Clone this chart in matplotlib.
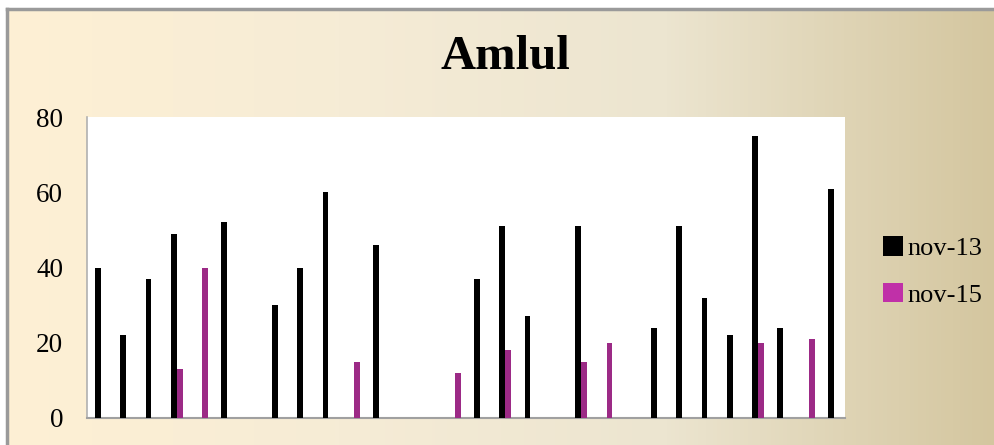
import numpy as np
import matplotlib
matplotlib.use("Agg")
import matplotlib.pyplot as plt
from matplotlib.patches import Patch
from matplotlib.colors import LinearSegmentedColormap

# 30 sampling points, no labels on the x axis
points = np.arange(30)
nov13 = [40, 22, 37, 49, 0, 52, 0, 30, 40, 60,
         0, 46, 0, 0, 0, 37, 51, 27, 0, 51,
         0, 0, 24, 51, 32, 22, 75, 24, 0, 61]
nov15 = [0, 0, 0, 13, 40, 0, 0, 0, 0, 0,
         15, 0, 0, 0, 12, 0, 18, 0, 0, 15,
         20, 0, 0, 0, 0, 0, 20, 0, 21, 0]
series_names = ["nov-13", "nov-15"]
yticks = [0, 20, 40, 60, 80]

plt.rcParams['font.family'] = ['Liberation Serif', 'DejaVu Serif']

fig = plt.figure(figsize=(9.95, 4.45), dpi=100)
fig.patch.set_facecolor("white")

# beige gradient panel with a grey frame on top and left
x0, y1 = 7 / 995, 1 - 9 / 445
bg = fig.add_axes([x0, 0, 1 - x0, y1], zorder=-10)
cmap = LinearSegmentedColormap.from_list(
    "beige", ["#fef0d4", "#f6ecd6", "#ece5d0", "#d4c69f"])
bg.imshow(np.linspace(0, 1, 256).reshape(1, -1), aspect="auto", cmap=cmap,
          extent=[0, 1, 0, 1])
bg.set_xlim(0, 1)
bg.set_ylim(0, 1)
bg.axis("off")
fig.add_artist(plt.Line2D([x0, x0], [0, y1], color="#9a9a9a", lw=2.5))
fig.add_artist(plt.Line2D([x0, 1], [y1, y1], color="#9a9a9a", lw=2.5))

ax = fig.add_axes([0.0874, 0.0607, 0.7616, 0.6763])
ax.set_facecolor("white")
w = 0.23
ax.bar(points - 0.12, nov13, width=w, color="black", zorder=3)
ax.bar(points + 0.12, nov15, width=w, color="#9c2a86", zorder=3)

ax.set_xlim(-0.555, 29.43)
ax.set_ylim(0, 80)
ax.set_yticks(yticks)
ax.set_xticks([])
ax.tick_params(axis="y", length=0, pad=17, labelsize=19.5)
for s in ["top", "right"]:
    ax.spines[s].set_visible(False)
ax.spines["left"].set_color("#b0b0b0")
ax.spines["left"].set_linewidth(1.2)
ax.spines["bottom"].set_color("#a0a0a0")
ax.spines["bottom"].set_linewidth(1.5)

fig.text(0.508, 0.872, "Amlul", ha="center", va="center",
         fontsize=35, fontweight="bold")

handles = [Patch(facecolor="black"), Patch(facecolor="#c030a8")]
fig.legend(handles, series_names, loc="center left",
           bbox_to_anchor=(0.884 - 0.02, 0.39), frameon=False, fontsize=19,
           handlelength=0.75, handleheight=0.75, handletextpad=0.15,
           labelspacing=0.85)

fig.savefig("out.png", dpi=100)
